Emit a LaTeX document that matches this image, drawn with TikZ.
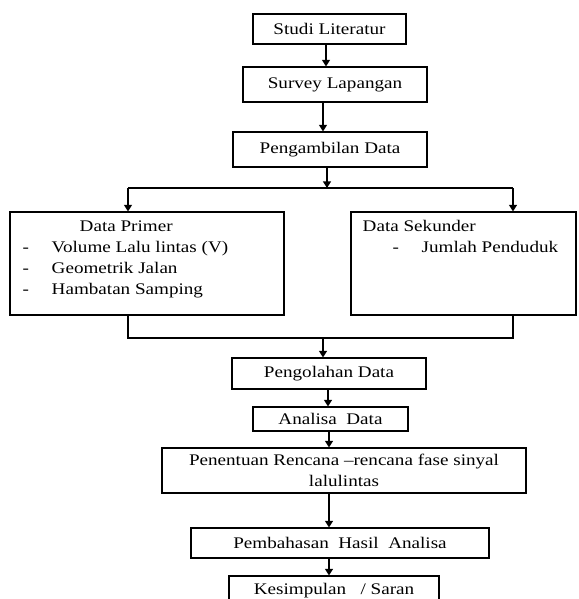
\documentclass[tikz,border=0pt]{standalone}
\usepackage{fontspec}
\setmainfont{Liberation Serif}[FakeStretch=1.18]
\usepackage{tikz}
\usetikzlibrary{arrows.meta,calc}

\begin{document}
\begin{tikzpicture}[x=0.75pt,y=-0.75pt,
    font=\fontsize{12.15}{15.75}\selectfont,
    box/.style={draw, line width=0.8pt, inner sep=0pt, align=center},
    boxtext/.style={inner sep=0pt, align=left, anchor=north west},
    arr/.style={line width=1pt, -{Triangle[length=5pt,width=6pt]}},
    link/.style={line width=0.8pt},
    splitline/.style={line width=1.6pt}]
    \useasboundingbox (0,0) rectangle (578,599);

    % Main steps
    \node[box, minimum width=114.75pt, minimum height=22.5pt] (studi) at (329.5,29) {Studi Literatur};
    \node[box, minimum width=138pt, minimum height=26.25pt] (survey) at (335,84.5) {Survey Lapangan};
    \node[box, minimum width=145.5pt, minimum height=26.25pt] (ambil) at (330,149.5) {Pengambilan Data};

    % Data boxes
    \node[box, minimum width=205.5pt, minimum height=77.25pt] (primer) at (147,263.5) {};
    \node[boxtext] (primertxt) at ($(primer.north west)+(13,9)$)
        {\hspace*{42.75pt}Data Primer\\
         \makebox[21.75pt][l]{-}Volume Lalu lintas (V)\\
         \makebox[21.75pt][l]{-}Geometrik Jalan\\
         \makebox[21.75pt][l]{-}Hambatan Samping};
    \node[box, minimum width=168.75pt, minimum height=77.25pt] (sekunder) at (463.5,263.5) {};
    \node[boxtext] (sekundertxt) at ($(sekunder.north west)+(12,9)$)
        {Data Sekunder\\
         \hspace*{22.5pt}\makebox[21.75pt][l]{-}Jumlah Penduduk};

    % Processing steps
    \node[box, minimum width=145.5pt, minimum height=23.25pt] (olah) at (329,373.5) {Pengolahan Data};
    \node[box, minimum width=116.25pt, minimum height=18pt] (analisa) at (330.5,419) {Analisa~ Data};
    \node[box, minimum width=273pt, minimum height=33.75pt] (tentu) at (344,470.5)
        {Penentuan Rencana –rencana fase sinyal\\lalulintas};
    \node[box, minimum width=223.5pt, minimum height=22.5pt] (bahas) at (340,543) {Pembahasan~ Hasil~ Analisa};
    \node[box, minimum width=157.5pt, minimum height=22.5pt] (simpul) at (334,591) {Kesimpulan~~ / Saran};

    % Spine and branch points
    \coordinate (spine) at (326,0);
    \coordinate (splitL) at (128,188);
    \coordinate (splitR) at (513,188);
    \coordinate (mergeL) at (128,338);
    \coordinate (mergeR) at (513,338);

    % Arrows
    \draw[arr] (studi.south -| spine) -- (survey.north -| spine);
    \draw[arr] ([xshift=-2.25pt]survey.south -| spine) -- ([xshift=-2.25pt]ambil.north -| spine);
    \draw[arr] ([xshift=0.75pt]ambil.south -| spine) -- ([xshift=0.75pt]splitL -| spine);
    \draw[splitline] (splitL) -- (splitR);
    \draw[arr] (splitL) -- (splitL |- primer.north);
    \draw[arr] (splitR) -- (splitR |- sekunder.north);
    \draw[link] (primer.south -| mergeL) -- (mergeL) -- (mergeR) -- (sekunder.south -| mergeR);
    \draw[arr] ([xshift=-2.25pt]mergeL -| spine) -- ([xshift=-2.25pt]olah.north -| spine);
    \draw[arr] ([xshift=1.5pt]olah.south -| spine) -- ([xshift=1.5pt]analisa.north -| spine);
    \draw[arr] ([xshift=2.25pt]analisa.south -| spine) -- ([xshift=2.25pt]tentu.north -| spine);
    \draw[arr] ([xshift=2.25pt]tentu.south -| spine) -- ([xshift=2.25pt]bahas.north -| spine);
    \draw[arr] ([xshift=2.25pt]bahas.south -| spine) -- ([xshift=2.25pt]simpul.north -| spine);
\end{tikzpicture}
\end{document}
